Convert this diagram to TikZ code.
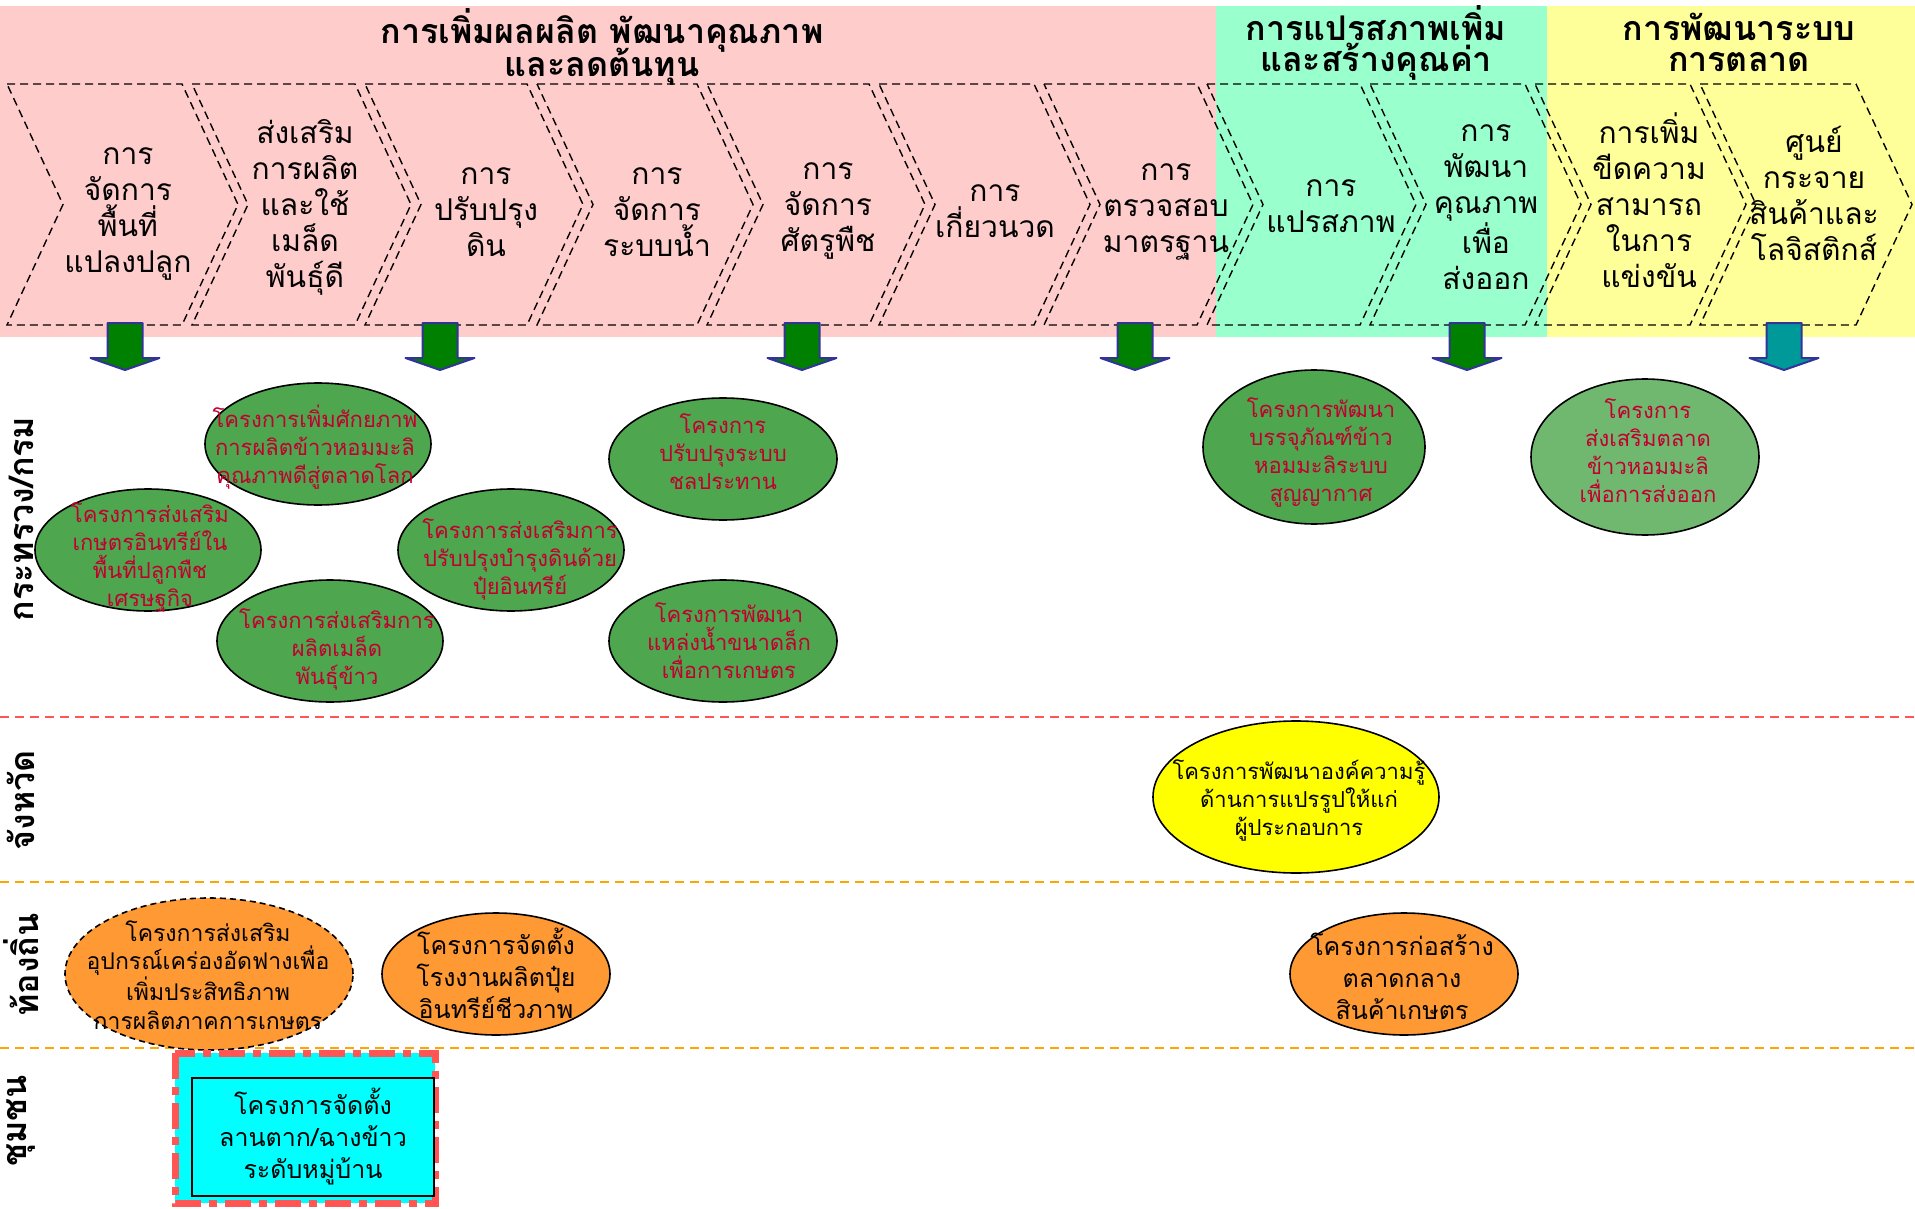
\documentclass[tikz,border=0pt]{standalone}
\usepackage{fontspec}
\newfontfamily\thai[Script=Thai]{Loma}
\usetikzlibrary{shapes.geometric}
\definecolor{bandpink}{RGB}{255,204,204}
\definecolor{bandgreen}{RGB}{153,255,204}
\definecolor{bandyellow}{RGB}{255,255,153}
\definecolor{arrowgreen}{RGB}{0,128,0}
\definecolor{arrowteal}{RGB}{0,153,153}
\definecolor{arrowedge}{RGB}{51,51,153}
\definecolor{projgreen}{RGB}{78,166,78}
\definecolor{projlight}{RGB}{112,184,112}
\definecolor{projred}{RGB}{192,0,48}
\definecolor{projyellow}{RGB}{255,255,0}
\definecolor{projorange}{RGB}{255,153,51}
\definecolor{sepred}{RGB}{255,85,85}
\definecolor{seporange}{RGB}{255,165,0}
\definecolor{boxcyan}{RGB}{0,255,255}
\tikzset{
  chev/.style={draw=black, line width=1.4pt, dash pattern=on 8pt off 5pt},
  chevtext/.style={font=\thai\fontsize{30}{36}\selectfont, align=center, inner sep=0pt},
  headtext/.style={font=\thai\bfseries\fontsize{34}{31}\selectfont, align=center, inner sep=0pt},
  rowlabel/.style={font=\thai\bfseries\fontsize{34}{38}\selectfont, rotate=90, inner sep=0pt},
  blockarrow/.style={draw=arrowedge, line width=2pt, line join=round},
  proj/.style={ellipse, draw=black, line width=1.6pt, inner sep=0pt},
  redtext/.style={font=\thai\fontsize{22}{28}\selectfont, text=projred, align=center, inner sep=0pt},
  blacktext/.style={font=\thai\fontsize{22}{28}\selectfont, align=center, inner sep=0pt},
  bigtext/.style={font=\thai\fontsize{25}{32}\selectfont, align=center, inner sep=0pt},
  levelsep/.style={line width=2pt, dash pattern=on 9pt off 6pt},
}
\begin{document}
\begin{tikzpicture}[x=1pt,y=-1pt]
\useasboundingbox (0,0) rectangle (1915,1209);
\fill[white] (0,0) rectangle (1915,1209);

% header bands
\fill[bandpink]   (0,6)    rectangle (1216,337);
\fill[bandgreen]  (1216,6) rectangle (1547,337);
\fill[bandyellow] (1547,6) rectangle (1915,337);

% value-chain chevrons
\foreach \l/\r in {7/182,192/355,365/527,537/697,707/869,879/1034,1044/1197,1207/1360,1370/1525,1535/1690,1700/1856}{
  \draw[chev] (\l,84) -- (\r,84) -- (\r+56,204.5) -- (\r,325) -- (\l,325) -- (\l+56,204.5) -- cycle;
}

\node[chevtext] (c1)  at (128,214)  {การ\\จัดการ\\พื้นที่\\แปลงปลูก};
\node[chevtext] (c2)  at (305,207)  {ส่งเสริม\\การผลิต\\และใช้\\เมล็ด\\พันธุ์ดี};
\node[chevtext] (c3)  at (486,212)  {การ\\ปรับปรุง\\ดิน};
\node[chevtext] (c4)  at (657,212)  {การ\\จัดการ\\ระบบน้ำ};
\node[chevtext] (c5)  at (828,211)  {การ\\จัดการ\\ศัตรูพืช};
\node[chevtext] (c6)  at (995,211)  {การ\\เกี่ยวนวด};
\node[chevtext] (c7)  at (1166,212) {การ\\ตรวจสอบ\\มาตรฐาน};
\node[chevtext] (c8)  at (1331,206) {การ\\แปรสภาพ};
\node[chevtext] (c9)  at (1486,207) {การ\\พัฒนา\\คุณภาพ\\เพื่อ\\ส่งออก};
\node[chevtext] (c10) at (1649,200) {การเพิ่ม\\ขีดความ\\สามารถ\\ในการ\\แข่งขัน};
\node[chevtext] (c11) at (1814,193) {ศูนย์\\กระจาย\\สินค้าและ\\โลจิสติกส์};

% band titles
\node[headtext] (h1) at (602,47) {การเพิ่มผลผลิต พัฒนาคุณภาพ\\[-6pt]และลดต้นทุน};
\node[headtext] (h2) at (1376,43) {การแปรสภาพเพิ่ม\\และสร้างคุณค่า};
\node[headtext] (h3) at (1739,42) {การพัฒนาระบบ\\การตลาด};

% block arrows under the chain
\foreach \cx/\col in {125/arrowgreen,440/arrowgreen,802/arrowgreen,1135/arrowgreen,1467/arrowgreen,1784/arrowteal}{
  \filldraw[blockarrow, fill=\col] (\cx-17.5,323) -- (\cx+17.5,323) -- (\cx+17.5,358) -- (\cx+34.5,358)
    -- (\cx,370) -- (\cx-34.5,358) -- (\cx-17.5,358) -- cycle;
}

% level separators
\draw[levelsep, sepred]    (0,717)  -- (1915,717);
\draw[levelsep, seporange] (0,882)  -- (1915,882);
\draw[levelsep, seporange] (0,1048) -- (1915,1048);

% ministry / department projects
\node[proj, fill=projgreen, minimum width=226pt, minimum height=122pt] (pa) at (318,444) {};
\node[proj, fill=projgreen, minimum width=226pt, minimum height=122pt] (pb) at (148,550) {};
\node[proj, fill=projgreen, minimum width=226pt, minimum height=122pt] (pc) at (330,641) {};
\node[proj, fill=projgreen, minimum width=226pt, minimum height=122pt] (pd) at (511,550) {};
\node[proj, fill=projgreen, minimum width=228pt, minimum height=122pt] (pe) at (723,459) {};
\node[proj, fill=projgreen, minimum width=228pt, minimum height=122pt] (pf) at (723,641) {};
\node[proj, fill=projgreen, minimum width=222pt, minimum height=154pt] (pg) at (1314,447) {};
\node[proj, fill=projlight, minimum width=228pt, minimum height=156pt] (ph) at (1645,457) {};

\node[redtext] (ta) at (315,447)  {โครงการเพิ่มศักยภาพ\\การผลิตข้าวหอมมะลิ\\คุณภาพดีสู่ตลาดโลก};
\node[redtext] (tb) at (150,557)  {โครงการส่งเสริม\\เกษตรอินทรีย์ใน\\พื้นที่ปลูกพืช\\เศรษฐกิจ};
\node[redtext] (tc) at (337,649)  {โครงการส่งเสริมการ\\ผลิตเมล็ด\\พันธุ์ข้าว};
\node[redtext] (td) at (520,559)  {โครงการส่งเสริมการ\\ปรับปรุงบำรุงดินด้วย\\ปุ๋ยอินทรีย์};
\node[redtext] (te) at (723,452)  {โครงการ\\ปรับปรุงระบบ\\ชลประทาน};
\node[redtext] (tf) at (729,641)  {โครงการพัฒนา\\แหล่งน้ำขนาดล็ก\\เพื่อการเกษตร};
\node[redtext] (tg) at (1321,452) {โครงการพัฒนา\\บรรจุภัณฑ์ข้าว\\หอมมะลิระบบ\\สูญญากาศ};
\node[redtext] (th) at (1648,451) {โครงการ\\ส่งเสริมตลาด\\ข้าวหอมมะลิ\\เพื่อการส่งออก};

% provincial project
\node[proj, fill=projyellow, minimum width=286pt, minimum height=152pt] (pi) at (1296,797) {};
\node[blacktext] (ti) at (1299,800) {โครงการพัฒนาองค์ความรู้\\ด้านการแปรรูปให้แก่\\ผู้ประกอบการ};

% local projects
\node[proj, fill=projorange, dash pattern=on 6pt off 4pt, minimum width=288pt, minimum height=152pt] (pj) at (209,974) {};
\node[proj, fill=projorange, minimum width=228pt, minimum height=122pt] (pk) at (496,974) {};
\node[proj, fill=projorange, minimum width=228pt, minimum height=122pt] (pl) at (1404,974) {};
\node[blacktext, font=\thai\fontsize{23}{28.5}\selectfont] (tj) at (208,975)  {โครงการส่งเสริม\\อุปกรณ์เคร่องอัดฟางเพื่อ\\เพิ่มประสิทธิภาพ\\การผลิตภาคการเกษตร};
\node[bigtext]   (tk) at (496,973)  {โครงการจัดตั้ง\\โรงงานผลิตปุ๋ย\\อินทรีย์ชีวภาพ};
\node[bigtext]   (tl) at (1402,976) {โครงการก่อสร้าง\\ตลาดกลาง\\สินค้าเกษตร};

% community project
\fill[boxcyan] (175,1053) rectangle (435,1203);
\draw[sepred, line width=7pt, dash pattern=on 26pt off 8pt on 8pt off 8pt] (175,1053) rectangle (435,1203);
\node[draw=black, line width=2pt, fill=boxcyan, minimum width=242pt, minimum height=118pt, inner sep=0pt] (pm) at (313,1137) {};
\node[bigtext] (tm) at (pm.center) {โครงการจัดตั้ง\\ลานตาก/ฉางข้าว\\ระดับหมู่บ้าน};

% level labels
\node[rowlabel] (l1) at (21,519)  {กระทรวง/กรม};
\node[rowlabel] (l2) at (21,800)  {จังหวัด};
\node[rowlabel] (l3) at (21,965)  {ท้องถิ่น};
\node[rowlabel] (l4) at (21,1121) {ชุมชน};
\end{tikzpicture}
\end{document}
